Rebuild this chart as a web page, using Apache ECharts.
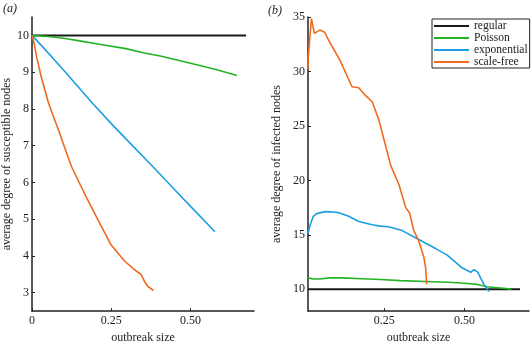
<!DOCTYPE html>
<html>
<head>
<meta charset="utf-8">
<script src="https://cdn.jsdelivr.net/npm/echarts@6/dist/echarts.min.js"></script>
<style>
  html, body { margin: 0; padding: 0; background: #fff; }
  #chart { width: 531px; height: 349px; }
</style>
</head>
<body>
<div id="chart"></div>
<script>
// series names
var names = ['regular', 'Poisson', 'exponential', 'scale-free'];
var colors = ['#1a1a1a', '#24b324', '#1c9fe0', '#ef6a1e'];

// panel (a): average degree of susceptible nodes vs outbreak size
var aRegular = [[0, 10], [0.675, 10]];
var aPoisson = [[0, 10], [0.05, 9.97], [0.1, 9.92], [0.15, 9.85], [0.217, 9.75], [0.296, 9.64],
    [0.35, 9.53], [0.408, 9.43], [0.5, 9.24], [0.58, 9.07], [0.646, 8.91]];
var aExponential = [[0, 10], [0.041, 9.62], [0.1, 9.05], [0.19, 8.16], [0.25, 7.6], [0.3, 7.15],
    [0.389, 6.36], [0.45, 5.8], [0.5, 5.35], [0.577, 4.66]];
var aScaleFree = [[0, 10], [0.005, 9.85], [0.015, 9.4], [0.028, 8.91], [0.052, 8.16], [0.084, 7.41],
    [0.124, 6.44], [0.174, 5.55], [0.21, 4.95], [0.248, 4.32], [0.291, 3.87], [0.32, 3.65],
    [0.335, 3.55], [0.344, 3.5], [0.355, 3.3], [0.365, 3.17], [0.383, 3.06]];

// panel (b): average degree of infected nodes vs outbreak size
var bRegular = [[0.0134, 10], [0.672, 10]];
var bPoisson = [[0.0134, 11.05], [0.03, 10.95], [0.05, 10.95], [0.08, 11.05], [0.12, 11.05],
    [0.2, 10.95], [0.238, 10.9], [0.3, 10.8], [0.4, 10.7], [0.45, 10.65], [0.5, 10.55],
    [0.539, 10.45], [0.57, 10.24], [0.62, 10.1], [0.645, 10.02]];
var bExponential = [[0.0134, 15.1], [0.02, 15.9], [0.03, 16.7], [0.04, 16.95], [0.067, 17.13],
    [0.09, 17.1], [0.109, 17.04], [0.14, 16.7], [0.171, 16.23], [0.213, 15.93], [0.238, 15.8],
    [0.264, 15.75], [0.306, 15.39], [0.353, 14.64], [0.41, 13.74], [0.446, 13.14], [0.493, 11.95],
    [0.519, 11.56], [0.529, 11.8], [0.54, 11.6], [0.56, 10.45], [0.576, 9.8]];
var bScaleFree = [[0.0134, 30.2], [0.0138, 31.2], [0.024, 34.85], [0.033, 33.5], [0.05, 33.8],
    [0.065, 33.6], [0.077, 32.9], [0.114, 30.95], [0.15, 28.6], [0.171, 28.5], [0.192, 27.8],
    [0.213, 27.2], [0.233, 25.6], [0.249, 23.8], [0.27, 21.4], [0.296, 19.6], [0.317, 17.5],
    [0.329, 17.0], [0.342, 15.4], [0.358, 14.4], [0.373, 13.0], [0.379, 11.95], [0.382, 10.45]];

// ticks
var aXTicks = [0, 0.25, 0.5];
var aYTicks = [3, 4, 5, 6, 7, 8, 9, 10];
var bXTicks = [0.25, 0.5];
var bYTicks = [10, 15, 20, 25, 30, 35];

var serif = 'Liberation Serif, serif';
var chart = echarts.init(document.getElementById('chart'));

function xFmt(v) {
    return v === 0 ? '0' : v.toFixed(2);
}

function xAxis(idx, min, ticks) {
    return {
        type: 'value', gridIndex: idx, min: min, max: 0.70,
        name: 'outbreak size', nameLocation: 'middle', nameGap: 17,
        nameTextStyle: { fontFamily: serif, fontSize: 12, color: '#222' },
        splitLine: { show: false },
        axisLine: { show: true, lineStyle: { color: '#222', width: 1.5 } },
        axisTick: { show: true, inside: true, length: 3, customValues: ticks, lineStyle: { color: '#222' } },
        axisLabel: { customValues: ticks, formatter: xFmt, margin: 4,
            fontFamily: serif, fontSize: 12, color: '#222' }
    };
}

function yAxis(idx, min, max, ticks, title, gap) {
    return {
        type: 'value', gridIndex: idx, min: min, max: max,
        name: title, nameLocation: 'middle', nameGap: gap, nameRotate: 90,
        nameTextStyle: { fontFamily: serif, fontSize: 12, color: '#222' },
        splitLine: { show: false },
        axisLine: { show: true, lineStyle: { color: '#222', width: 1.5 } },
        axisTick: { show: true, inside: true, length: 3, customValues: ticks, lineStyle: { color: '#222' } },
        axisLabel: { customValues: ticks, margin: 3, fontFamily: serif, fontSize: 12, color: '#222' }
    };
}

function line(name, data, idx, ci) {
    return {
        name: name, type: 'line', xAxisIndex: idx, yAxisIndex: idx,
        data: data, showSymbol: false, symbol: 'none', animation: false,
        lineStyle: { color: colors[ci], width: ci === 0 ? 2 : 1.6 },
        itemStyle: { color: colors[ci] },
        z: ci === 3 ? 3 : 2
    };
}

var option = {
    backgroundColor: '#fff',
    animation: false,
    grid: [
        { left: 32, right: 277, top: 17, bottom: 30 },
        { left: 308, right: 2, top: 17, bottom: 30 }
    ],
    xAxis: [xAxis(0, 0, aXTicks), xAxis(1, 0.0134, bXTicks)],
    yAxis: [
        yAxis(0, 2.5, 10.5, aYTicks, 'average degree of susceptible nodes', 15),
        yAxis(1, 8, 35, bYTicks, 'average degree of infected nodes', 25)
    ],
    legend: {
        data: names, orient: 'vertical', left: 432, top: 19,
        icon: 'rect', itemWidth: 35, itemHeight: 2, itemGap: 0,
        padding: [1, 2, 0, 2], borderColor: '#222', borderWidth: 1,
        backgroundColor: '#fff',
        textStyle: { fontFamily: serif, fontSize: 11.5, color: '#222', lineHeight: 11.8 }
    },
    graphic: [
        { type: 'text', left: 3, top: 3, style: { text: '(a)', fontFamily: serif, fontStyle: 'italic', fontSize: 12, fill: '#222' } },
        { type: 'text', left: 268, top: 5, style: { text: '(b)', fontFamily: serif, fontStyle: 'italic', fontSize: 12, fill: '#222' } }
    ],
    series: [
        line('regular', aRegular, 0, 0),
        line('Poisson', aPoisson, 0, 1),
        line('exponential', aExponential, 0, 2),
        line('scale-free', aScaleFree, 0, 3),
        line('regular', bRegular, 1, 0),
        line('Poisson', bPoisson, 1, 1),
        line('exponential', bExponential, 1, 2),
        line('scale-free', bScaleFree, 1, 3)
    ]
};
chart.setOption(option);
</script>
</body>
</html>
